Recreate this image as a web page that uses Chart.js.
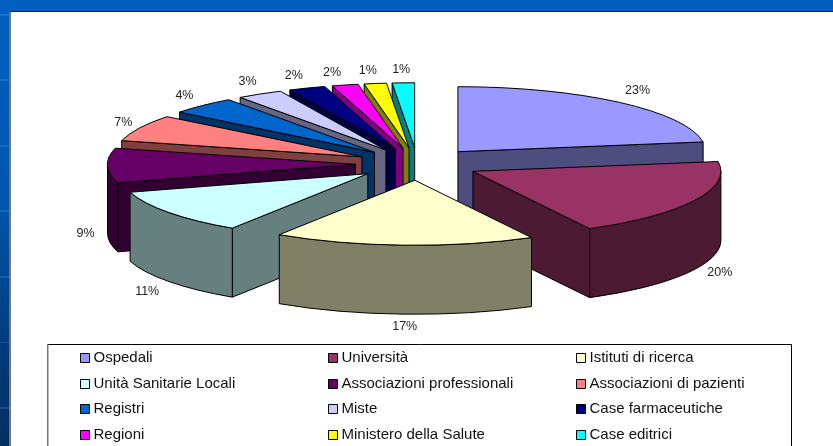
<!DOCTYPE html>
<html>
<head>
<meta charset="utf-8">
<title>Pie</title>
<script src="https://cdn.jsdelivr.net/npm/chart.js@4/dist/chart.umd.min.js"></script>
<style>
  html, body { margin: 0; padding: 0; width: 833px; height: 446px; overflow: hidden; }
  body { position: relative;
         background:
           repeating-linear-gradient(180deg, transparent 0, transparent 14px, rgba(90,160,255,.25) 14px, rgba(90,160,255,.25) 16px, transparent 16px, transparent 65.5px),
           linear-gradient(180deg, #0060c0 0%, #0056ad 45%, #003a78 80%, #00305f 100%); }
  #panel { position: absolute; left: 9px; top: 11px; right: 0; bottom: 0; background: #fff;
           border-top: 1px solid #101020; border-left: 2px solid #777; }
  #pie { position: absolute; left: 0; top: 0; }
</style>
</head>
<body>
<div id="panel"></div>
<canvas id="pie" width="833" height="446"></canvas>
<script>
"use strict";

const categories = [
  'Ospedali', 'Università', 'Istituti di ricerca',
  'Unità Sanitarie Locali', 'Associazioni professionali', 'Associazioni di pazienti',
  'Registri', 'Miste', 'Case farmaceutiche',
  'Regioni', 'Ministero della Salute', 'Case editrici'
];

// they round to the printed percentages
const values = [22.6, 19.6, 17.0, 11.2, 8.6, 6.6, 4.4, 3.0, 2.4, 1.7, 1.45, 1.45];

const colors = [
  '#9999FF', '#993366', '#FFFFCC',
  '#CCFFFF', '#660066', '#FF8080',
  '#0066CC', '#CCCCFF', '#000080',
  '#FF00FF', '#FFFF00', '#00FFFF'
];

/* --- 3D LOOK --- */

const center_x = 417.5;
const center_y = 164;
const radius_x = 248;
const radius_y = 65;
const depth = 69;
const explode = 0.25;

// the percent labels do not sit exactly on the radius in the original
const label_nudge_x = [1, 2, 2, -1, 4, 7, 0, 1, -4, -7, -4, -1];
const label_nudge_y = [-2, -3, -1, 2, -1, 0, -1, -1, 0, 0, 0, 0];

function dark(hex) {
  const n = parseInt(hex.slice(1), 16);
  return 'rgb(' + (n >> 16) / 2 + ',' + ((n >> 8) & 255) / 2 + ',' + (n & 255) / 2 + ')';
}

function outline(ctx, fill) {
  if (fill) {
    ctx.fillStyle = fill;
    ctx.fill();
  }
  ctx.strokeStyle = '#000';
  ctx.lineWidth = 1;
  ctx.lineJoin = 'round';
  ctx.stroke();
}

function draw_slice(ctx, arc) {
  const a0 = arc.startAngle;
  const a1 = arc.endAngle;
  const mid = (a0 + a1) / 2;
  const ox = center_x + Math.cos(mid) * explode * radius_x;
  const oy = center_y + Math.sin(mid) * explode * radius_y;
  const px = a => ox + Math.cos(a) * radius_x;
  const py = a => oy + Math.sin(a) * radius_y;
  const wall_color = dark(arc.options.backgroundColor);

  // only the walls that look towards the viewer
  [[a0, Math.cos(a0) < -1e-6], [a1, Math.cos(a1) > 1e-6]].forEach(([a, visible]) => {
    if (!visible) return;
    ctx.beginPath();
    ctx.moveTo(ox, oy);
    ctx.lineTo(px(a), py(a));
    ctx.lineTo(px(a), py(a) + depth);
    ctx.lineTo(ox, oy + depth);
    ctx.closePath();
    outline(ctx, wall_color);
  });

  const f0 = Math.max(a0, 0);
  const f1 = Math.min(a1, Math.PI);
  if (f1 > f0) {
    ctx.beginPath();
    ctx.ellipse(ox, oy, radius_x, radius_y, 0, f0, f1);
    ctx.ellipse(ox, oy + depth, radius_x, radius_y, 0, f1, f0, true);
    ctx.closePath();
    outline(ctx, wall_color);
  }

  // top face: the arc element itself, squashed
  ctx.save();
  ctx.translate(ox, oy);
  ctx.scale(radius_x / arc.outerRadius, radius_y / arc.outerRadius);
  ctx.translate(-arc.x, -arc.y);
  arc.draw(ctx);
  ctx.restore();

  ctx.beginPath();
  ctx.moveTo(ox, oy);
  ctx.ellipse(ox, oy, radius_x, radius_y, 0, a0, a1);
  ctx.closePath();
  outline(ctx);
}

function draw_label(ctx, arc, text, i) {
  const mid = (arc.startAngle + arc.endAngle) / 2;
  const x = center_x + Math.cos(mid) * ((1 + explode) * radius_x + 26) + label_nudge_x[i];
  let y = center_y + Math.sin(mid) * ((1 + explode) * radius_y + 13) + label_nudge_y[i];
  if (Math.sin(mid) > -0.05) y += depth;
  ctx.fillStyle = '#222';
  ctx.font = '12.5px "Liberation Sans"';
  ctx.textAlign = 'center';
  ctx.textBaseline = 'middle';
  ctx.fillText(text, x, y);
}

function draw_legend(ctx) {
  ctx.lineWidth = 1;
  ctx.strokeStyle = '#000';
  ctx.beginPath();
  ctx.moveTo(47.5, 344.5);
  ctx.lineTo(791.5, 344.5);
  ctx.lineTo(791.5, 446);
  ctx.stroke();
  ctx.strokeStyle = '#777';
  ctx.lineWidth = 1.5;
  ctx.beginPath();
  ctx.moveTo(47.75, 344);
  ctx.lineTo(47.75, 446);
  ctx.stroke();

  const col_x = [80.5, 328.5, 576.5];
  const row_y = [353.5, 379.5, 404.5, 430.5];
  ctx.lineWidth = 1;
  ctx.font = '15px "Liberation Sans"';
  ctx.textAlign = 'left';
  ctx.textBaseline = 'middle';
  categories.forEach((name, i) => {
    const x = col_x[i % 3];
    const y = row_y[Math.floor(i / 3)];
    ctx.fillStyle = colors[i];
    ctx.fillRect(x, y, 9, 9);
    ctx.strokeStyle = '#000';
    ctx.strokeRect(x, y, 9, 9);
    ctx.fillStyle = '#111';
    ctx.fillText(name, x + 13, y + 4.5);
  });
}

const pie_3d = {
  id: 'pie_3d',
  beforeDatasetsDraw(chart) {
    const ctx = chart.ctx;
    const arcs = chart.getDatasetMeta(0).data;
    const total = values.reduce((a, b) => a + b, 0);
    // back slices first
    const order = arcs.slice().sort((a, b) =>
      Math.sin((a.startAngle + a.endAngle) / 2) - Math.sin((b.startAngle + b.endAngle) / 2));
    order.forEach(arc => draw_slice(ctx, arc));
    arcs.forEach((arc, i) => draw_label(ctx, arc, Math.round(values[i] / total * 100) + '%', i));
    draw_legend(ctx);
    return false;
  }
};

let pie_chart = new Chart(document.getElementById('pie'), {
  type: 'pie',
  data: {
    labels: categories,
    datasets: [{
      data: values,
      backgroundColor: colors,
      borderWidth: 0
    }]
  },
  options: {
    responsive: false,
    animation: false,
    plugins: {
      legend: {
        display: false
      },
      tooltip: {
        enabled: false
      }
    }
  },
  plugins: [pie_3d]
});
</script>
</body>
</html>
